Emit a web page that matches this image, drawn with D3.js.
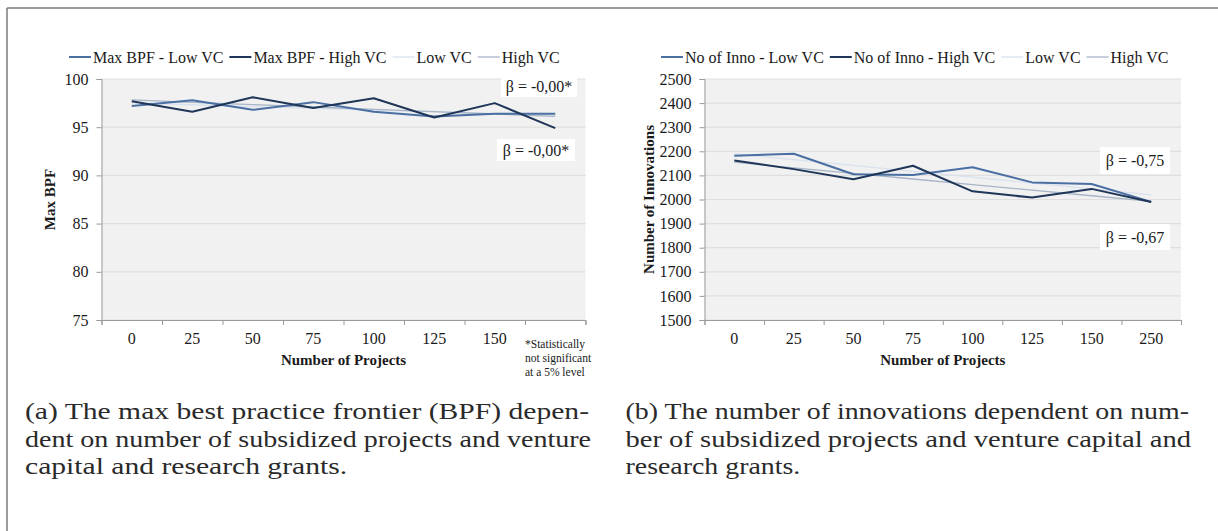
<!DOCTYPE html>
<html lang="en">
<head>
<meta charset="UTF-8">
<title>Max BPF and number of innovations by number of projects</title>
<script src="https://d3js.org/d3.v7.min.js"></script>
<style>
  body { margin: 0; background: #fff; }
  svg text { font-family: "Liberation Serif", "Times New Roman", serif; fill: #1a1a1a; }
  .tick text { font-size: 16px; }
  .legend text { font-size: 16px; }
  .axis-title { font-size: 15px; font-weight: bold; }
  .beta { font-size: 16px; }
  .note { font-size: 11.5px; }
  .caption { font-size: 23.5px; fill: #2a2a2a; }
</style>
</head>
<body>
<svg width="1218" height="531"></svg>
<script>
// ---- data ----
const bpfCats = ["0", "25", "50", "75", "100", "125", "150", ""];
const bpfLow = [97.2, 97.8, 96.8, 97.6, 96.6, 96.1, 96.4, 96.4];
const bpfHigh = [97.7, 96.6, 98.1, 97.0, 98.0, 96.0, 97.5, 94.9];
const bpfTicks = [75, 80, 85, 90, 95, 100];
const bpfBetas = ["β = -0,00*", "β = -0,00*"];

const innoCats = ["0", "25", "50", "75", "100", "125", "150", "250"];
const innoLow = [2182, 2190, 2105, 2102, 2134, 2071, 2064, 1990];
const innoHigh = [2162, 2126, 2084, 2140, 2034, 2008, 2044, 1990];
const innoTicks = [1500, 1600, 1700, 1800, 1900, 2000, 2100, 2200, 2300, 2400, 2500];
const innoBetas = ["β = -0,75", "β = -0,67"];

const noteLines = ["*Statistically", "not significant", "at a 5% level"];
const captionA = ["(a) The max best practice frontier (BPF) depen-",
                  "dent on number of subsidized projects and venture",
                  "capital and research grants."];
const captionB = ["(b) The number of innovations dependent on num-",
                  "ber of subsidized projects and venture capital and",
                  "research grants."];

const lowColor = "#4a6fa3";
const highColor = "#1f3658";
const lowTrendColor = "#d9e2ee";
const highTrendColor = "#a7b5c7";

const svg = d3.select("svg");

// outer frame (top and left edges only are visible)
svg.append("line").attr("x1", 7).attr("x2", 1218).attr("y1", 8).attr("y2", 8)
    .attr("stroke", "#7a7a7a").attr("stroke-width", 1.5);
svg.append("line").attr("x1", 7).attr("x2", 7).attr("y1", 8).attr("y2", 531)
    .attr("stroke", "#7a7a7a").attr("stroke-width", 1.5);

// least squares line over the category index, like an Excel trendline
function trend(values) {
    const n = values.length;
    const mx = d3.mean(d3.range(n)), my = d3.mean(values);
    let sxy = 0, sxx = 0;
    values.forEach(function (v, i) { sxy += (i - mx) * (v - my); sxx += (i - mx) * (i - mx); });
    const b = sxy / sxx;
    return d3.range(n).map(function (i) { return my + b * (i - mx); });
}

function drawPanel(p) {
    const g = svg.append("g");
    const n = p.cats.length;

    const x = d3.scaleBand().domain(d3.range(n)).range([p.left, p.right]).padding(0);
    const xEdge = d3.scaleLinear().domain([0, n]).range([p.left, p.right]);
    const y = d3.scaleLinear().domain([p.ticks[0], p.ticks[p.ticks.length - 1]]).range([p.bottom, p.top]);
    const cx = function (i) { return x(i) + x.bandwidth() / 2; };

    g.append("rect").attr("x", p.left).attr("y", p.top)
        .attr("width", p.right - p.left).attr("height", p.bottom - p.top)
        .attr("fill", "#f1f1f1");

    g.selectAll(".grid").data(p.ticks).enter().append("line")
        .attr("x1", p.left).attr("x2", p.right)
        .attr("y1", function (d) { return y(d); }).attr("y2", function (d) { return y(d); })
        .attr("stroke", "#dfdfdf").attr("stroke-width", 1.2);

    // y axis
    const yAxis = g.append("g").attr("transform", "translate(" + p.left + ",0)")
        .call(d3.axisLeft(y).tickValues(p.ticks).tickSize(5).tickPadding(8).tickFormat(d3.format("d")));
    yAxis.selectAll("line, path").attr("stroke", "#9a9a9a");

    // x axis: labels in band centers, tick marks between categories
    const xAxis = g.append("g").attr("transform", "translate(0," + p.bottom + ")")
        .call(d3.axisBottom(x).tickSize(0).tickPadding(13).tickFormat(function (i) { return p.cats[i]; }));
    xAxis.select(".domain").remove();
    const xMarks = g.append("g").attr("transform", "translate(0," + p.bottom + ")")
        .call(d3.axisBottom(xEdge).tickValues(d3.range(n + 1)).tickSize(5).tickFormat(""));
    xMarks.selectAll("line, path").attr("stroke", "#9a9a9a");

    const line = d3.line().x(function (d, i) { return cx(i); }).y(function (d) { return y(d); });

    // trendlines first, then the series
    p.series.forEach(function (s) {
        g.append("path").datum(trend(s.values)).attr("d", line)
            .attr("fill", "none").attr("stroke", s.trendColor).attr("stroke-width", 1.3);
    });
    p.series.forEach(function (s) {
        g.append("path").datum(s.values).attr("d", line)
            .attr("fill", "none").attr("stroke", s.color).attr("stroke-width", 2)
            .attr("stroke-linejoin", "round");
    });

    // beta labels in white boxes
    p.betas.forEach(function (b, k) {
        const box = p.betaBoxes[k];
        g.append("rect").attr("x", box[0]).attr("y", box[1]).attr("width", box[2]).attr("height", box[3])
            .attr("fill", "#fff");
        g.append("text").attr("class", "beta")
            .attr("x", box[0] + box[2] / 2).attr("y", box[1] + box[3] / 2)
            .attr("text-anchor", "middle").attr("dy", "0.35em").text(b);
    });

    // axis titles
    g.append("text").attr("class", "axis-title")
        .attr("transform", "translate(" + p.yTitleX + "," + ((p.top + p.bottom) / 2) + ") rotate(-90)")
        .attr("text-anchor", "middle").attr("dy", "0.35em").text(p.yTitle);
    g.append("text").attr("class", "axis-title")
        .attr("x", (p.left + p.right) / 2).attr("y", p.bottom + 45)
        .attr("text-anchor", "middle").text("Number of Projects");

    // legend: series and their trendlines
    const items = [];
    p.series.forEach(function (s) { items.push({ name: s.name, color: s.color, w: 2 }); });
    p.series.forEach(function (s) { items.push({ name: s.trendName, color: s.trendColor, w: 1.3 }); });
    const lg = g.append("g").attr("class", "legend");
    let lx = p.legendX;
    items.forEach(function (it) {
        lg.append("line").attr("x1", lx).attr("x2", lx + 22).attr("y1", p.legendY).attr("y2", p.legendY)
            .attr("stroke", it.color).attr("stroke-width", it.w);
        const t = lg.append("text").attr("x", lx + 24).attr("y", p.legendY).attr("dy", "0.35em").text(it.name);
        lx += 24 + t.node().getComputedTextLength() + 6;
    });
    return g;
}

const panelA = drawPanel({
    left: 101.5, right: 585.5, top: 79, bottom: 320,
    cats: bpfCats, ticks: bpfTicks,
    series: [
        { name: "Max BPF - Low VC", values: bpfLow, color: lowColor, trendName: "Low VC", trendColor: lowTrendColor },
        { name: "Max BPF - High VC", values: bpfHigh, color: highColor, trendName: "High VC", trendColor: highTrendColor }
    ],
    betas: bpfBetas, betaBoxes: [[501, 75, 76, 22], [497, 139, 78, 22]],
    yTitle: "Max BPF", yTitleX: 50,
    legendX: 69, legendY: 57
});

// footnote in the last (unlabelled) category slot
panelA.selectAll(".note").data(noteLines).enter().append("text")
    .attr("class", "note").attr("x", 525)
    .attr("y", function (d, i) { return 348 + i * 14; })
    .text(function (d) { return d; });

drawPanel({
    left: 704.5, right: 1181, top: 79, bottom: 320,
    cats: innoCats, ticks: innoTicks,
    series: [
        { name: "No of Inno - Low VC", values: innoLow, color: lowColor, trendName: "Low VC", trendColor: lowTrendColor },
        { name: "No of Inno - High VC", values: innoHigh, color: highColor, trendName: "High VC", trendColor: highTrendColor }
    ],
    betas: innoBetas, betaBoxes: [[1100, 147, 70, 27], [1100, 224, 70, 26]],
    yTitle: "Number of Innovations", yTitleX: 649,
    legendX: 661, legendY: 57
});

// justified captions: first two lines fill the column, the last keeps the same stretch
function caption(lines, x0, widths) {
    const texts = lines.map(function (l, i) {
        return svg.append("text").attr("class", "caption")
            .attr("x", x0).attr("y", 419 + i * 27.5).text(l);
    });
    const stretch = widths[0] / texts[0].node().getComputedTextLength();
    texts.forEach(function (t, i) {
        const w = i < 2 ? widths[i] : t.node().getComputedTextLength() * stretch;
        t.attr("textLength", w).attr("lengthAdjust", "spacingAndGlyphs");
    });
}
caption(captionA, 25, [564, 566]);
caption(captionB, 625.5, [563.5, 565.5]);
</script>
</body>
</html>
